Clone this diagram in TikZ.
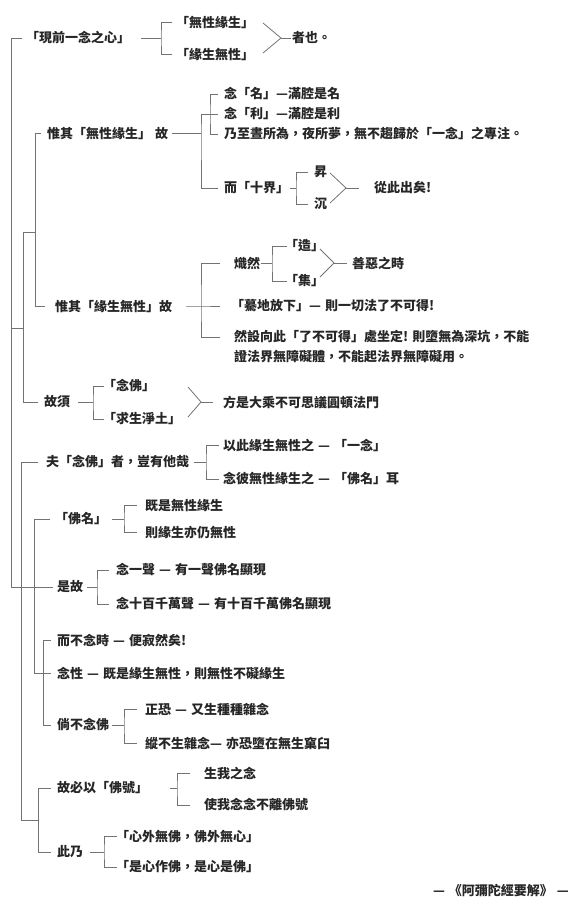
\documentclass[tikz,border=0pt]{standalone}
\usepackage{fontspec}
\newfontfamily\cjk{Noto Sans CJK TC}
\newcommand{\sdash}{\hspace{4pt}—\hspace{4pt}}
\tikzset{
  txt/.style={anchor=west, inner sep=0pt, text=black!85, font=\cjk\bfseries\fontsize{13}{16}\selectfont},
  ln/.style={draw=black!55, line width=0.8pt},
}
\begin{document}
\begin{tikzpicture}[x=1pt, y=-1pt]
\useasboundingbox (0,0) rectangle (573,899);
\node[txt] (t0) at (26,38) {「現前一念之心」};
\node[txt] (a1) at (176,22) {「無性緣生」};
\node[txt] (a2) at (176,54) {「緣生無性」};
\node[txt] (a3) at (292,38) {者也。};
\node[txt] (b0) at (47,133) {惟其「無性緣生」\hspace{4pt}故};
\node[txt] (b1) at (224,94) {念「名」—滿腔是名};
\node[txt] (b2) at (224,114) {念「利」—滿腔是利};
\node[txt] (b3) at (224,134) {乃至晝所為，夜所夢，無不趨歸於「一念」之專注。};
\node[txt] (b4) at (224,188) {而「十界」};
\node[txt] (b5) at (314,172) {昇};
\node[txt] (b6) at (314,204) {沉};
\node[txt] (b7) at (374,188) {從此出矣!};
\node[txt] (c0) at (55,306) {惟其「緣生無性」故};
\node[txt] (c1) at (234,263) {熾然};
\node[txt] (c2) at (285,246) {「造」};
\node[txt] (c3) at (285,281) {「集」};
\node[txt] (c4) at (352,263) {善惡之時};
\node[txt] (c5) at (231,306) {「驀地放下」—\hspace{4pt}則一切法了不可得!};
\node[txt] (c6) at (234,337) {然設向此「了不可得」處坐定!\hspace{4pt}則墮無為深坑，不能};
\node[txt] (c7) at (234,357) {證法界無障礙體，不能起法界無障礙用。};
\node[txt] (d0) at (44,402) {故須};
\node[txt] (d1) at (103,386) {「念佛」};
\node[txt] (d2) at (103,419) {「求生淨土」};
\node[txt] (d3) at (223,402) {方是大乘不可思議圓頓法門};
\node[txt] (e0) at (46,462) {夫「念佛」者，豈有他哉};
\node[txt] (e1) at (223,445) {以此緣生無性之\sdash「一念」};
\node[txt] (e2) at (223,479) {念彼無性緣生之\sdash「佛名」耳};
\node[txt] (f0) at (55,519) {「佛名」};
\node[txt] (f1) at (145,505) {既是無性緣生};
\node[txt] (f2) at (145,532) {則緣生亦仍無性};
\node[txt] (g0) at (57,587) {是故};
\node[txt] (g1) at (116,570) {念一聲\sdash 有一聲佛名顯現};
\node[txt] (g2) at (116,604) {念十百千萬聲\sdash 有十百千萬佛名顯現};
\node[txt] (h0) at (57,640) {而不念時\sdash 便寂然矣!};
\node[txt] (h1) at (57,673) {念性\sdash 既是緣生無性，則無性不礙緣生};
\node[txt] (h2) at (57,725) {倘不念佛};
\node[txt] (h3) at (145,709) {正恐\sdash 又生種種雜念};
\node[txt] (h4) at (145,743) {縱不生雜念—\hspace{4pt}亦恐墮在無生窠臼};
\node[txt] (p0) at (57,788) {故必以「佛號」};
\node[txt] (p1) at (204,773) {生我之念};
\node[txt] (p2) at (204,805) {使我念念不離佛號};
\node[txt] (q0) at (57,852) {此乃};
\node[txt] (q1) at (116,836) {「心外無佛，佛外無心」};
\node[txt] (q2) at (116,867) {「是心作佛，是心是佛」};
\node[txt, anchor=east] (cite) at (569,890) {—\hspace{4pt}《阿彌陀經要解》\hspace{4pt}—};

\coordinate (r0) at (11,38);
\coordinate (r1) at (11,587);
\coordinate (sa0) at (35,133);
\coordinate (sa1) at (35,306);
\coordinate (sb0) at (23,232);
\coordinate (sb1) at (23,328);
\coordinate (sb2) at (23,402);
\coordinate (sc0) at (21,462);
\coordinate (sc1) at (21,820);
\coordinate (sd0) at (34,519);
\coordinate (sd1) at (34,673);
\coordinate (se0) at (43,640);
\coordinate (se1) at (43,725);
\coordinate (sf0) at (38,788);
\coordinate (sf1) at (38,852);
\draw[ln] ([xshift=-4pt]t0.west) -- (r0) -- (r1) -- ([xshift=-4pt]g0.west);
\draw[ln] (r0 |- sb1) -- (sb1);
\draw[ln] (sa0 |- sb0) -- (sb0) -- (sb2) -- ([xshift=-6pt]d0.west);
\draw[ln] ([xshift=-6pt]b0.west) -- (sa0) -- (sa1) -- ([xshift=-10pt]c0.west);
\draw[ln] ([xshift=-8pt]e0.west) -- (sc0) -- (sc1) -- (sf0 |- sc1);
\draw[ln] ([xshift=-6pt]p0.west) -- (sf0) -- (sf1) -- ([xshift=-6pt]q0.west);
\draw[ln] ([xshift=-5pt]f0.west) -- (sd0) -- (sd1) -- ([xshift=-6pt]h1.west);
\draw[ln] ([xshift=-6pt]h0.west) -- (se0) -- (se1) -- ([xshift=-6pt]h2.west);

\coordinate (j1) at (161,38);
\coordinate (v1) at (281,38);
\draw[ln] ([xshift=11pt]t0.east) -- (j1);
\draw[ln] ([xshift=-4pt]a1.west) -| (j1) |- ([xshift=-4pt]a2.west);
\draw[ln] (v1) ++(-18,-15) -- (v1) -- ++(-18,15);
\draw[ln] (v1) -- ([xshift=-1pt]a3.west);

\coordinate (j2) at (201,133);
\coordinate (j2b) at (210,114);
\draw[ln] ([xshift=4pt]b0.east) -- (j2);
\draw[ln] ([xshift=-6pt]b2.west) -| (j2) |- ([xshift=-6pt]b4.west);
\draw[ln] ([xshift=-6pt]b1.west) -| (j2b) |- ([xshift=-6pt]b3.west);
\coordinate (j3) at (296,188);
\coordinate (v2) at (346,188);
\draw[ln] ([xshift=1pt]b4.east) -- (j3);
\draw[ln] ([xshift=-6pt]b5.west) -| (j3) |- ([xshift=-6pt]b6.west);
\draw[ln] (v2) ++(-16,-15) -- (v2) -- ++(-16,15);
\draw[ln] (v2) -- ++(13,0);

\coordinate (j4) at (201,306);
\coordinate (j5) at (272,263);
\coordinate (v3) at (334,263);
\draw[ln] ([xshift=14pt]c0.east) -- (j4) -- ([xshift=-11pt]c5.west);
\draw[ln] ([xshift=-14pt]c1.west) -| (j4) |- ([xshift=-14pt]c6.west);
\draw[ln] ([xshift=1pt]c1.east) -- (j5);
\draw[ln] ([xshift=2pt]c2.west) -| (j5) |- ([xshift=2pt]c3.west);
\draw[ln] (v3) ++(-14,-14) -- (v3) -- ++(-14,14);
\draw[ln] (v3) -- ([xshift=-5pt]c4.west);

\coordinate (j6) at (93,402);
\coordinate (v4) at (201,402);
\draw[ln] ([xshift=8pt]d0.east) -- (j6);
\draw[ln] ([xshift=1pt]d1.west) -| (j6) |- ([xshift=1pt]d2.west);
\draw[ln] (v4) ++(-13,-15) -- (v4) -- ++(-13,15);
\draw[ln] (v4) -- ([xshift=-10pt]d3.west);

\coordinate (j7) at (206,462);
\draw[ln] ([xshift=5pt]e0.east) -- (j7);
\draw[ln] ([xshift=-4pt]e1.west) -| (j7) |- ([xshift=-4pt]e2.west);
\coordinate (j8) at (124,519);
\draw[ln] ([xshift=5pt]f0.east) -- (j8);
\draw[ln] ([xshift=-8pt]f1.west) -| (j8) |- ([xshift=-8pt]f2.west);
\coordinate (j9) at (97,587);
\draw[ln] ([xshift=4pt]g0.east) -- (j9);
\draw[ln] ([xshift=-7pt]g1.west) -| (j9) |- ([xshift=-7pt]g2.west);
\coordinate (j10) at (124,725);
\draw[ln] ([xshift=3pt]h2.east) -- (j10);
\draw[ln] ([xshift=-8pt]h3.west) -| (j10) |- ([xshift=-8pt]h4.west);
\coordinate (j11) at (177,788);
\draw[ln] ([xshift=22pt]p0.east) -- (j11);
\draw[ln] ([xshift=-14pt]p1.west) -| (j11) |- ([xshift=-14pt]p2.west);
\coordinate (j12) at (104,852);
\draw[ln] ([xshift=7pt]q0.east) -- (j12);
\draw[ln] ([xshift=1pt]q1.west) -| (j12) |- ([xshift=1pt]q2.west);
\end{tikzpicture}
\end{document}
